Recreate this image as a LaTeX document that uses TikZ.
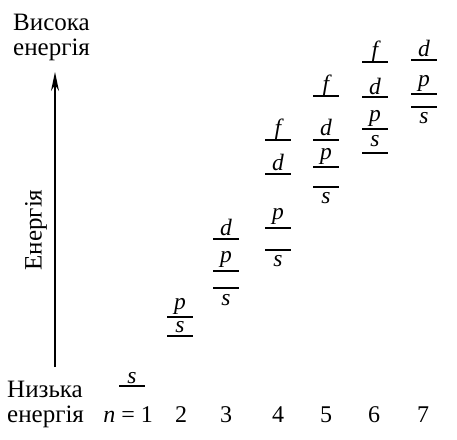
\documentclass[tikz,border=0pt]{standalone}
\usepackage{fontspec}
\setmainfont{Liberation Serif}
\usetikzlibrary{arrows.meta}
\begin{document}
\begin{tikzpicture}[x=1pt,y=-1pt,
  lvl/.style={line width=1.3pt},
  orb/.style={inner sep=0pt, anchor=base, font=\fontsize{23.5}{24}\selectfont\itshape},
  txt/.style={inner sep=0pt, anchor=base west, font=\fontsize{25}{25}\selectfont},
  num/.style={inner sep=0pt, anchor=base, font=\fontsize{24}{24}\selectfont},
  axis/.style={line width=1.3pt, -{Stealth[length=19pt,width=8pt]}}]
\useasboundingbox (0,0) rectangle (457,439);
% axis labels
\node[txt] (hi1) at (13,30) {Висока};
\node[txt] (hi2) at (13,55) {енергія};
\node[txt] (lo1) at (7,397) {Низька};
\node[txt] (lo2) at (7,422) {енергія};
\node[inner sep=0pt, font=\fontsize{25}{25}\selectfont, rotate=90] (en) at (36,230) {Енергія};
% arrow
\coordinate (a0) at (55,367);
\coordinate (a1) at (55,72);
\draw[axis] (a0) -- (a1);
% levels: centre x / line y / label / label baseline / name
\foreach \c/\y/\l/\b/\nm in {
  132/386/s/383/s1,
  180/317/p/309/p2, 180/336/s/332/s2,
  226/239/d/235/d3, 226/271/p/262/p3, 226/288/s/305/s3,
  278/140/f/135/f4, 278/174/d/170/d4, 278/228/p/219/p4, 278/250/s/266/s4,
  326/96/f/91/f5, 326/140/d/135/d5, 326/167/p/159/p5, 326/187/s/203/s5,
  375/62/f/57/f6, 375/97/d/94/d6, 375/129/p/121/p6, 375/153/s/146/s6,
  424/60/d/56/d7, 424/94/p/86/p7, 424/107/s/123/s7}
{
  \draw[lvl] (\c-13,\y) -- (\c+13,\y);
  \node[orb] (\nm) at (\c,\b) {\l};
}
% shell numbers
\node[num, anchor=base east] (n1) at (153,422) {\textit{n} = 1};
\foreach \c/\k in {181/2, 226/3, 278/4, 326/5, 374/6, 423/7}
  \node[num] (n\k) at (\c,422) {\k};
\end{tikzpicture}
\end{document}
